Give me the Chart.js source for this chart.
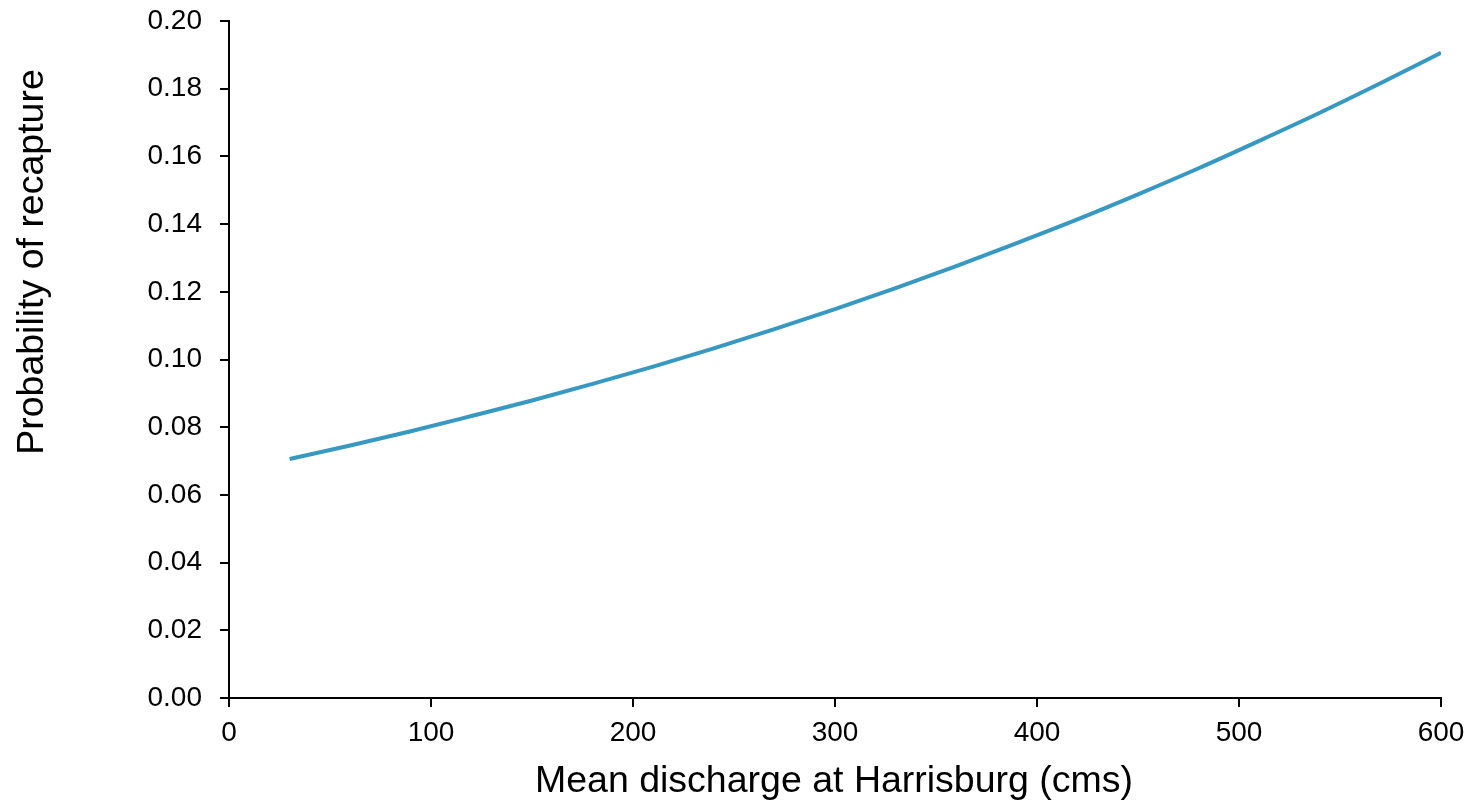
<!DOCTYPE html>
<html>
<head>
<meta charset="utf-8">
<script src="https://cdn.jsdelivr.net/npm/chart.js@4/dist/chart.umd.min.js"></script>
<style>
  html, body { margin: 0; padding: 0; background: #ffffff; }
  #wrap { width: 1474px; height: 802px; position: relative; }
</style>
</head>
<body>
<div id="wrap"><canvas id="c" width="1474" height="802"></canvas></div>
<script>
// Mean discharge (cms) and fitted probability of recapture
const discharge = [30, 60, 90, 120, 150, 180, 210, 240, 270, 300, 330, 360, 390, 420, 450, 480, 510, 540, 570, 600];
const recapture = [0.0706, 0.0746, 0.0788, 0.0833, 0.0879, 0.0928, 0.0979, 0.1033, 0.1090, 0.1149,
                   0.1211, 0.1276, 0.1344, 0.1414, 0.1488, 0.1565, 0.1646, 0.1729, 0.1816, 0.1906];

const xTitle = 'Mean discharge at Harrisburg (cms)';
const yTitle = 'Probability of recapture';

const FONT = 'Liberation Sans, Arial, sans-serif';

// Axis titles drawn at fixed offsets around the plot area
const axisTitles = {
  id: 'axisTitles',
  afterDraw(chart) {
    const { ctx, chartArea } = chart;
    ctx.save();
    ctx.fillStyle = '#000000';
    ctx.font = '37.5px ' + FONT;
    ctx.textAlign = 'center';
    ctx.textBaseline = 'alphabetic';
    ctx.fillText(xTitle, (chartArea.left + chartArea.right) / 2 - 1, 792);
    ctx.translate(43, 262);
    ctx.rotate(-Math.PI / 2);
    ctx.fillText(yTitle, 0, 0);
    ctx.restore();
  }
};

const points = discharge.map((x, i) => ({ x: x, y: recapture[i] }));

new Chart(document.getElementById('c'), {
  type: 'line',
  data: {
    datasets: [{
      data: points,
      borderColor: '#3798c2',
      borderWidth: 4,
      pointRadius: 0,
      fill: false,
      cubicInterpolationMode: 'monotone'
    }]
  },
  options: {
    responsive: false,
    animation: false,
    layout: { padding: { top: 21, right: 33, left: 0, bottom: 0 } },
    plugins: { legend: { display: false }, tooltip: { enabled: false } },
    scales: {
      x: {
        type: 'linear',
        min: 0,
        max: 600,
        ticks: {
          stepSize: 100,
          color: '#000000',
          font: { family: FONT, size: 28 },
          padding: 9,
          maxRotation: 0
        },
        grid: { drawOnChartArea: false, tickLength: 9, color: '#000000', lineWidth: 2 },
        border: { color: '#000000', width: 2 },
        afterFit(scale) { scale.height = 104; }
      },
      y: {
        type: 'linear',
        min: 0,
        max: 0.2,
        ticks: {
          stepSize: 0.02,
          color: '#000000',
          font: { family: FONT, size: 28 },
          padding: 18,
          callback: v => v.toFixed(2)
        },
        grid: { drawOnChartArea: false, tickLength: 9, color: '#000000', lineWidth: 2 },
        border: { color: '#000000', width: 2 },
        afterFit(scale) {
          scale.width = 229;
          scale.paddingTop = 0;
          scale.paddingBottom = 0;
        }
      }
    }
  },
  plugins: [axisTitles]
});
</script>
</body>
</html>
